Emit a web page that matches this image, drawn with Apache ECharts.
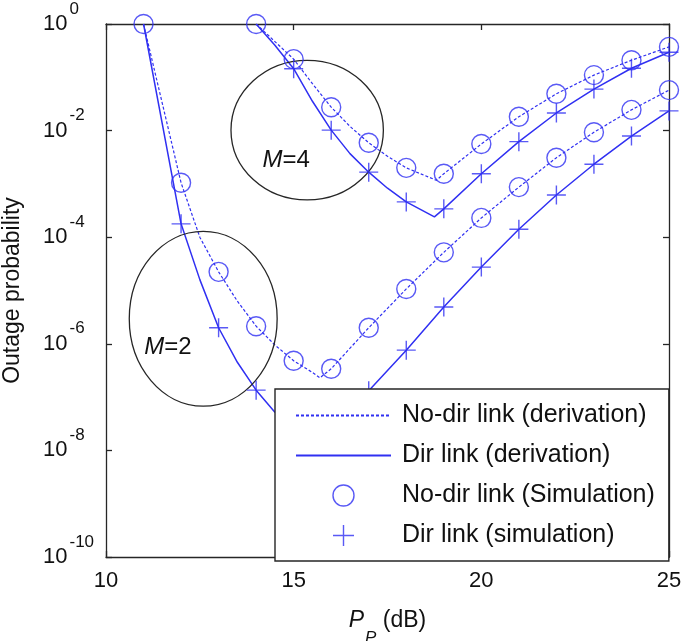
<!DOCTYPE html>
<html>
<head>
<meta charset="utf-8">
<script src="https://cdn.jsdelivr.net/npm/echarts@6/dist/echarts.min.js"></script>
<style>html,body{margin:0;padding:0;background:#fff;}#c{width:685px;height:641px;}</style>
</head>
<body>
<div id="c"></div>
<script>
// ---- data ----
const xTicks = [10, 15, 20, 25];
const yTickExps = [0, -2, -4, -6, -8, -10];

// M = 2
const m2SimX = [11, 12, 13, 14, 15, 16, 17, 18, 19, 20, 21, 22, 23, 24, 25];
const m2NoDirSim = [1, 1.05e-3, 2.24e-5, 2.14e-6, 4.8e-7, 3.4e-7, 2.0e-6, 1.07e-5, 5.2e-5, 2.3e-4, 8.7e-4, 3.1e-3, 9.3e-3, 2.45e-2, 5.75e-2];
const m2DirSimX = [12, 13, 14, 15, 16, 17, 18, 19, 20, 21, 22, 23, 24, 25];
const m2DirSim = [1.78e-4, 2.0e-6, 1.35e-7, 2.8e-8, 2.4e-8, 1.32e-7, 7.6e-7, 4.9e-6, 2.75e-5, 1.41e-4, 6.2e-4, 2.34e-3, 7.9e-3, 2.34e-2];
const m2DerivX = [11, 12, 12.5, 13, 13.5, 14, 14.5, 15, 15.5, 15.7, 16, 17, 18, 19, 20, 21, 22, 23, 24, 25];
const m2NoDirDeriv = [1, 1.05e-3, 1.0e-4, 2.24e-5, 6.3e-6, 2.14e-6, 9.5e-7, 4.8e-7, 2.9e-7, 2.3e-7, 3.4e-7, 2.0e-6, 1.07e-5, 5.2e-5, 2.3e-4, 8.7e-4, 3.1e-3, 9.3e-3, 2.45e-2, 5.75e-2];
const m2DirDeriv = [1, 1.78e-4, 1.6e-5, 2.0e-6, 4.5e-7, 1.35e-7, 5.2e-8, 2.8e-8, 1.74e-8, 1.51e-8, 2.4e-8, 1.32e-7, 7.6e-7, 4.9e-6, 2.75e-5, 1.41e-4, 6.2e-4, 2.34e-3, 7.9e-3, 2.34e-2];

// M = 4
const m4SimX = [14, 15, 16, 17, 18, 19, 20, 21, 22, 23, 24, 25];
const m4NoDirSim = [1, 0.219, 0.0275, 5.9e-3, 2.0e-3, 1.55e-3, 5.6e-3, 0.0182, 0.049, 0.11, 0.209, 0.372];
const m4DirSimX = [15, 16, 17, 18, 19, 20, 21, 22, 23, 24, 25];
const m4DirSim = [0.145, 0.0102, 1.66e-3, 4.6e-4, 3.4e-4, 1.55e-3, 6.2e-3, 0.0214, 0.060, 0.148, 0.295];
const m4NoDirDerivX = [14, 14.5, 15, 15.5, 16, 16.5, 17, 17.5, 18, 18.8, 19, 20, 21, 22, 23, 24, 25];
const m4NoDirDeriv = [1, 0.468, 0.219, 0.0759, 0.0275, 0.0120, 5.9e-3, 3.3e-3, 2.0e-3, 1.17e-3, 1.55e-3, 5.6e-3, 0.0182, 0.049, 0.11, 0.209, 0.372];
const m4DirDerivX = [14, 14.5, 15, 15.5, 16, 16.5, 17, 17.5, 18, 18.75, 19, 20, 21, 22, 23, 24, 25];
const m4DirDeriv = [1, 0.398, 0.145, 0.0355, 0.0102, 3.7e-3, 1.66e-3, 8.3e-4, 4.6e-4, 2.4e-4, 3.4e-4, 1.55e-3, 6.2e-3, 0.0214, 0.060, 0.148, 0.295];

const seriesNames = ['No-dir link (derivation)', 'Dir link (derivation)', 'No-dir link (Simulation)', 'Dir link (simulation)'];

// annotation ellipses in data units (centre x in dB, centre y as probability, half-widths in dB / decades)
const ellipseCx = [15.36, 12.59];
const ellipseCy = [1.02e-2, 2.95e-6];
const ellipseRx = [2.03, 1.97];
const ellipseRdec = [1.31, 1.64];
const ellipseLabels = ['M=4', 'M=2'];
const labelX = [14.8, 11.65];
const labelY = [2.8e-3, 8.7e-7];

// ---- chart ----
const BLUE = '#3030f2';
const FONT = '"Liberation Sans", Arial, Helvetica, sans-serif';
const PLUS = 'path://M0,10L20,10M10,0L10,20';

function zip(xs, ys) { return xs.map((x, i) => [x, ys[i]]); }

const chart = echarts.init(document.getElementById('c'), null, { renderer: 'canvas' });

const axisLineStyle = { color: '#262626', width: 1.3 };
const yLabelFmt = v => '{b|10}{s|' + Math.round(Math.log10(v)) + '}';

function derivSeries(name, xs, ys, dashed) {
  return {
    type: 'line', name, data: zip(xs, ys), symbol: 'none', showSymbol: false,
    lineStyle: { color: BLUE, width: dashed ? 1.2 : 1.5, type: dashed ? [3, 2] : 'solid' },
    itemStyle: { color: BLUE }, emphasis: { disabled: true }, z: 2, silent: true
  };
}
function simSeries(name, xs, ys, plus) {
  return {
    type: 'scatter', name, data: zip(xs, ys),
    symbol: plus ? PLUS : 'circle', symbolSize: 19,
    itemStyle: { color: plus ? BLUE : 'rgba(0,0,0,0)', borderColor: BLUE, borderWidth: 1.4 },
    emphasis: { disabled: true }, z: 3, silent: true
  };
}

const option = {
  animation: false,
  backgroundColor: '#fff',
  textStyle: { fontFamily: FONT },
  grid: { left: 106, right: 16, top: 24, bottom: 84, containLabel: false, outerBoundsMode: 'none' },
  xAxis: [{
    type: 'value', min: 10, max: 25, interval: 5, position: 'bottom',
    name: '{i|P}{s|P}{r| (dB)}', nameLocation: 'middle', nameGap: 52,
    nameTextStyle: {
      verticalAlign: 'top',
      rich: {
        i: { fontFamily: FONT, fontSize: 23, fontStyle: 'italic', color: '#111', verticalAlign: 'top' },
        s: { fontFamily: FONT, fontSize: 17, fontStyle: 'italic', color: '#111', verticalAlign: 'bottom', padding: [21, 0, 0, 1] },
        r: { fontFamily: FONT, fontSize: 23, color: '#111', verticalAlign: 'top' }
      }
    },
    axisLine: { show: true, lineStyle: axisLineStyle },
    axisTick: { show: true, inside: true, length: 6, lineStyle: axisLineStyle },
    axisLabel: { fontFamily: FONT, fontSize: 22, color: '#111', margin: 13 },
    splitLine: { show: false }
  }, {
    type: 'value', min: 10, max: 25, interval: 5, position: 'top',
    axisLine: { show: true, lineStyle: axisLineStyle },
    axisTick: { show: true, inside: true, length: 6, lineStyle: axisLineStyle },
    axisLabel: { show: false }, splitLine: { show: false }
  }],
  yAxis: [{
    type: 'log', logBase: 10, min: 1e-10, max: 1, interval: 2, position: 'left',
    name: 'Outage probability', nameLocation: 'middle', nameGap: 82,
    nameTextStyle: { fontFamily: FONT, fontSize: 23, color: '#111' },
    axisLine: { show: true, lineStyle: axisLineStyle },
    axisTick: { show: true, inside: true, length: 6, lineStyle: axisLineStyle },
    axisLabel: {
      formatter: yLabelFmt, align: 'left', margin: 63,
      rich: {
        b: { fontFamily: FONT, fontSize: 22, color: '#111' },
        s: { fontFamily: FONT, fontSize: 17, color: '#111', padding: [0, 0, 30, 2] }
      }
    },
    splitLine: { show: false }, minorTick: { show: false }
  }, {
    type: 'log', logBase: 10, min: 1e-10, max: 1, interval: 2, position: 'right',
    axisLine: { show: true, lineStyle: axisLineStyle },
    axisTick: { show: true, inside: true, length: 6, lineStyle: axisLineStyle },
    axisLabel: { show: false }, splitLine: { show: false }
  }],
  legend: {
    orient: 'vertical', left: 275, top: 389,
    padding: [14, 14, 13, 20], itemGap: 15, itemWidth: 95, itemHeight: 21,
    backgroundColor: '#fff', borderColor: '#262626', borderWidth: 1.4, borderRadius: 0,
    textStyle: { fontFamily: FONT, fontSize: 25, color: '#111', padding: [0, 0, 0, 6] },
    selectedMode: false, z: 10,
    data: [
      { name: seriesNames[0], itemStyle: { color: 'rgba(0,0,0,0)', borderWidth: 0, opacity: 0 } },
      { name: seriesNames[1], itemStyle: { color: 'rgba(0,0,0,0)', borderWidth: 0, opacity: 0 } },
      { name: seriesNames[2], icon: 'circle', itemStyle: { color: 'rgba(0,0,0,0)', borderColor: BLUE, borderWidth: 1.4 } },
      { name: seriesNames[3], icon: PLUS, itemStyle: { color: BLUE, borderColor: BLUE, borderWidth: 1.4 } }
    ]
  },
  series: [
    derivSeries(seriesNames[0], m2DerivX, m2NoDirDeriv, true),
    derivSeries(seriesNames[0], m4NoDirDerivX, m4NoDirDeriv, true),
    derivSeries(seriesNames[1], m2DerivX, m2DirDeriv, false),
    derivSeries(seriesNames[1], m4DirDerivX, m4DirDeriv, false),
    simSeries(seriesNames[2], m2SimX, m2NoDirSim, false),
    simSeries(seriesNames[2], m4SimX, m4NoDirSim, false),
    simSeries(seriesNames[3], m2DirSimX, m2DirSim, true),
    simSeries(seriesNames[3], m4DirSimX, m4DirSim, true)
  ]
};
chart.setOption(option);

// annotations placed through the grid's own coordinate conversion
const graphics = [];
ellipseCx.forEach((cx, i) => {
  const c = chart.convertToPixel({ gridIndex: 0 }, [cx, ellipseCy[i]]);
  const ex = chart.convertToPixel({ gridIndex: 0 }, [cx + ellipseRx[i], ellipseCy[i]]);
  const ey = chart.convertToPixel({ gridIndex: 0 }, [cx, ellipseCy[i] * Math.pow(10, ellipseRdec[i])]);
  graphics.push({
    type: 'ellipse', silent: true, z: 3,
    shape: { cx: c[0], cy: c[1], rx: ex[0] - c[0], ry: c[1] - ey[1] },
    style: { fill: 'none', stroke: '#262626', lineWidth: 1.3 }
  });
  const t = chart.convertToPixel({ gridIndex: 0 }, [labelX[i], labelY[i]]);
  const parts = ellipseLabels[i].split('=');
  graphics.push({
    type: 'text', silent: true, z: 3, x: t[0], y: t[1],
    style: {
      text: '{i|' + parts[0] + '}{r|=' + parts[1] + '}',
      align: 'center', verticalAlign: 'middle',
      rich: {
        i: { fontFamily: FONT, fontSize: 24, fontStyle: 'italic', fill: '#111' },
        r: { fontFamily: FONT, fontSize: 24, fill: '#111' }
      }
    }
  });
});
chart.setOption({ graphic: graphics });
</script>
</body>
</html>
